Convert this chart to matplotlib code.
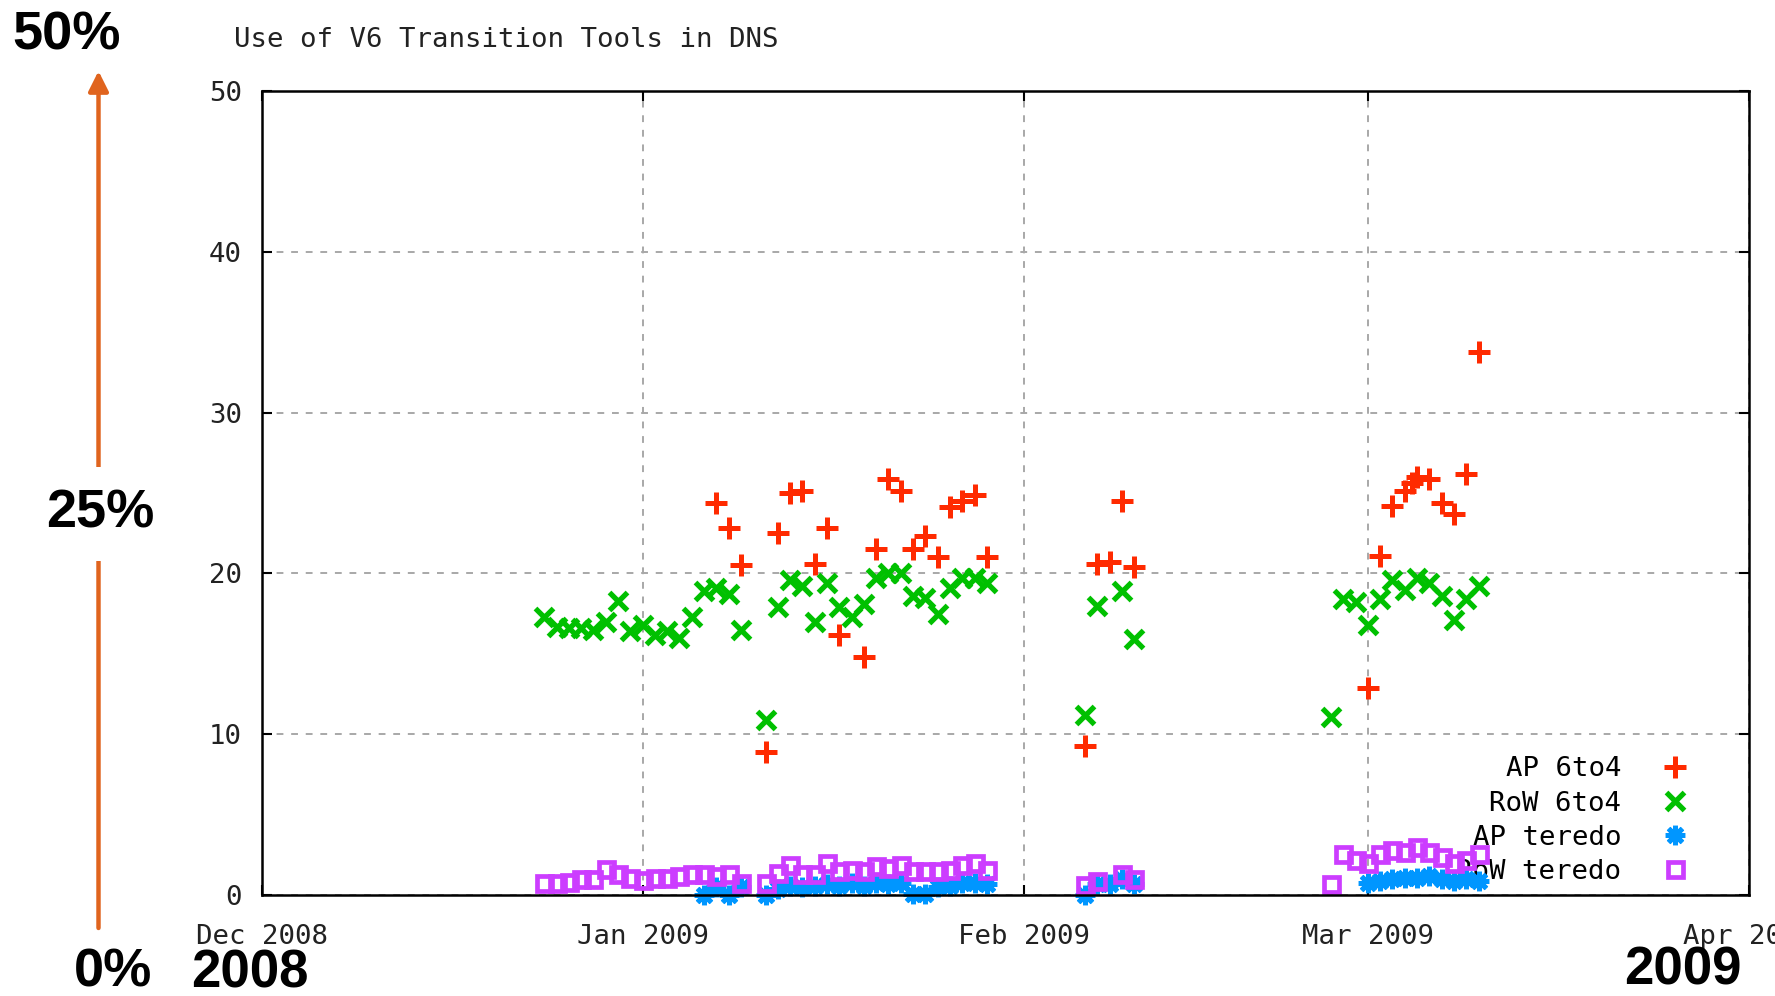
import pandas as pd
import matplotlib
matplotlib.use("Agg")
import matplotlib.pyplot as plt
import matplotlib.dates as mdates
from matplotlib.ticker import MultipleLocator

# valores (percentagem por dia)
ap6_dates = ["2009-01-07", "2009-01-08", "2009-01-09", "2009-01-11", "2009-01-12", "2009-01-13",
             "2009-01-14", "2009-01-15", "2009-01-16", "2009-01-17", "2009-01-19", "2009-01-20",
             "2009-01-21", "2009-01-22", "2009-01-23", "2009-01-24", "2009-01-25", "2009-01-26",
             "2009-01-27", "2009-01-28", "2009-01-29",
             "2009-02-06", "2009-02-07", "2009-02-08", "2009-02-09", "2009-02-10",
             "2009-03-01", "2009-03-02", "2009-03-03", "2009-03-04", "2009-03-04 14:00",
             "2009-03-05", "2009-03-06", "2009-03-07", "2009-03-08", "2009-03-09", "2009-03-10"]
ap6_vals = [24.4, 22.8, 20.5, 8.9, 22.5, 25.0,
            25.1, 20.6, 22.8, 16.2, 14.8, 21.5,
            25.9, 25.1, 21.5, 22.3, 21.0, 24.1,
            24.5, 24.9, 21.0,
            9.3, 20.6, 20.7, 24.5, 20.4,
            12.9, 21.1, 24.2, 25.1, 25.6,
            26.0, 25.9, 24.4, 23.7, 26.2, 33.75]

row6_dates = ["2008-12-24", "2008-12-25", "2008-12-26", "2008-12-27", "2008-12-28", "2008-12-29",
              "2008-12-30", "2008-12-31", "2009-01-01", "2009-01-02", "2009-01-03", "2009-01-04",
              "2009-01-05", "2009-01-06", "2009-01-07", "2009-01-08", "2009-01-09", "2009-01-11",
              "2009-01-12", "2009-01-13", "2009-01-14", "2009-01-15", "2009-01-16", "2009-01-17",
              "2009-01-18", "2009-01-19", "2009-01-20", "2009-01-21", "2009-01-22", "2009-01-23",
              "2009-01-24", "2009-01-25", "2009-01-26", "2009-01-27", "2009-01-28", "2009-01-29",
              "2009-02-06", "2009-02-07", "2009-02-09", "2009-02-10",
              "2009-02-26", "2009-02-27", "2009-02-28", "2009-03-01", "2009-03-02", "2009-03-03",
              "2009-03-04", "2009-03-05", "2009-03-06", "2009-03-07", "2009-03-08", "2009-03-09",
              "2009-03-10"]
row6_vals = [17.3, 16.7, 16.6, 16.6, 16.5, 17.0,
             18.3, 16.4, 16.8, 16.2, 16.4, 16.0,
             17.3, 18.9, 19.1, 18.7, 16.5, 10.9,
             17.9, 19.6, 19.2, 17.0, 19.4, 17.9,
             17.3, 18.1, 19.7, 20.0, 20.0, 18.6,
             18.5, 17.5, 19.1, 19.7, 19.7, 19.4,
             11.2, 18.0, 18.9, 15.9,
             11.1, 18.4, 18.2, 16.8, 18.4, 19.6,
             19.0, 19.7, 19.4, 18.6, 17.1, 18.4,
             19.2]

apt_dates = ["2009-01-06", "2009-01-07", "2009-01-08", "2009-01-09", "2009-01-11", "2009-01-12",
             "2009-01-13", "2009-01-14", "2009-01-15", "2009-01-16", "2009-01-17", "2009-01-18",
             "2009-01-19", "2009-01-20", "2009-01-21", "2009-01-22", "2009-01-23", "2009-01-24",
             "2009-01-25", "2009-01-26", "2009-01-27", "2009-01-28", "2009-01-29",
             "2009-02-06", "2009-02-07", "2009-02-08", "2009-02-09", "2009-02-10",
             "2009-03-01", "2009-03-02", "2009-03-03", "2009-03-04", "2009-03-05", "2009-03-06",
             "2009-03-07", "2009-03-08", "2009-03-09", "2009-03-10"]
apt_vals = [0.0, 0.5, 0.0, 0.5, 0.0, 0.4,
            0.6, 0.5, 0.6, 0.7, 0.6, 0.8,
            0.6, 0.8, 0.7, 0.8, 0.1, 0.1,
            0.5, 0.6, 0.8, 0.8, 0.7,
            0.0, 0.7, 0.7, 1.0, 0.7,
            0.8, 0.9, 1.0, 1.1, 1.1, 1.2,
            1.0, 0.9, 1.0, 0.9]

rowt_dates = ["2008-12-24", "2008-12-25", "2008-12-26", "2008-12-27", "2008-12-28", "2008-12-29",
              "2008-12-30", "2008-12-31", "2009-01-01", "2009-01-02", "2009-01-03", "2009-01-04",
              "2009-01-05", "2009-01-06", "2009-01-07", "2009-01-08", "2009-01-09", "2009-01-11",
              "2009-01-12", "2009-01-13", "2009-01-14", "2009-01-15", "2009-01-16", "2009-01-17",
              "2009-01-18", "2009-01-19", "2009-01-20", "2009-01-21", "2009-01-22", "2009-01-23",
              "2009-01-24", "2009-01-25", "2009-01-26", "2009-01-27", "2009-01-28", "2009-01-29",
              "2009-02-06", "2009-02-07", "2009-02-09", "2009-02-10",
              "2009-02-26", "2009-02-27", "2009-02-28", "2009-03-01", "2009-03-02", "2009-03-03",
              "2009-03-04", "2009-03-05", "2009-03-06", "2009-03-07", "2009-03-08", "2009-03-09",
              "2009-03-10"]
rowt_vals = [0.75, 0.75, 0.85, 1.0, 1.0, 1.65,
             1.35, 1.05, 0.95, 1.1, 1.1, 1.2,
             1.35, 1.3, 1.2, 1.3, 0.75, 0.8,
             1.4, 1.9, 1.3, 1.35, 2.0, 1.5,
             1.6, 1.5, 1.8, 1.7, 1.9, 1.5,
             1.5, 1.5, 1.6, 1.9, 2.0, 1.6,
             0.65, 0.9, 1.35, 1.0,
             0.7, 2.6, 2.2, 2.0, 2.6, 2.8,
             2.7, 3.0, 2.7, 2.4, 2.0, 2.2,
             2.6]

W, H = 1775, 996
mono = "DejaVu Sans Mono"
big = "Liberation Sans"
fs = 19.7


def datas(lista):
    return pd.to_datetime(lista, format="ISO8601")


fig = plt.figure(figsize=(W / 100, H / 100), dpi=100)
ax = fig.add_axes([261.5 / W, 1 - 895.4 / H, (1749 - 261.5) / W, (895.4 - 90.6) / H])

ax.plot(datas(ap6_dates), ap6_vals, ls="none", marker="+", ms=15.5, mew=3.6,
        color="#ff2a00", label="AP 6to4", clip_on=False)
ax.plot(datas(row6_dates), row6_vals, ls="none", marker="x", ms=12.5, mew=3.8,
        color="#00c000", label="RoW 6to4", clip_on=False)
ax.plot(datas(apt_dates), apt_vals, ls="none", marker=(8, 2, 0), ms=14, mew=3.6,
        color="#0096ff", label="AP teredo", clip_on=False)
ax.plot(datas(rowt_dates), rowt_vals, ls="none", marker="s", ms=10.8, mew=3.4,
        mfc="none", mec="#cc3dff", label="RoW teredo", clip_on=False)

ax.set_xlim(pd.Timestamp("2008-12-01"), pd.Timestamp("2009-04-01"))
ax.set_ylim(0, 50)
ax.xaxis.set_major_locator(mdates.MonthLocator())
ax.xaxis.set_major_formatter(mdates.DateFormatter("%b %Y"))
ax.yaxis.set_major_locator(MultipleLocator(10))

ax.set_axisbelow(True)
ax.grid(True, color="#a8a8a8", linestyle=(0, (3.5, 4)), linewidth=1.4)
for s in ax.spines.values():
    s.set_linewidth(1.8)
ax.tick_params(direction="in", top=True, right=True, length=7, width=1.5,
               labelsize=fs, colors="black")
ax.tick_params(axis="y", pad=14)
ax.tick_params(axis="x", pad=20.5)
for lab in ax.get_xticklabels() + ax.get_yticklabels():
    lab.set_family(mono)
    lab.set_color("#222222")

leg = ax.legend(loc="lower right", bbox_to_anchor=(0.9597, 0.013), markerfirst=False,
                frameon=False, prop={"family": mono, "size": fs}, handlelength=1.0,
                handletextpad=1.47, labelspacing=0.3, borderpad=0, borderaxespad=0)
leg.set_zorder(1.5)

fig.text(234 / W, 1 - 40 / H, "Use of V6 Transition Tools in DNS", family=mono,
         fontsize=fs, ha="left", va="center", color="#222222")

# seta e rotulos grandes fora do grafico
ax.annotate("", xy=(98.5 / W, 1 - 71 / H), xytext=(98.5 / W, 1 - 928 / H),
            xycoords="figure fraction", textcoords="figure fraction",
            arrowprops=dict(arrowstyle="-|>,head_length=0.6,head_width=0.3", color="#e0641e",
                            lw=3.2, mutation_scale=20, shrinkA=0, shrinkB=0),
            annotation_clip=False)

fig.text(67 / W, 1 - 36 / H, "50%", family=big, weight="bold", fontsize=39,
         ha="center", va="center")
fig.text(100 / W, 1 - 514 / H, "25%", family=big, weight="bold", fontsize=39,
         ha="center", va="center", bbox=dict(facecolor="white", edgecolor="none", pad=16))
fig.text(113 / W, 1 - 972 / H, "0%", family=big, weight="bold", fontsize=39,
         ha="center", va="center")
fig.text(250 / W, 1 - 973 / H, "2008", family=big, weight="bold", fontsize=38,
         ha="center", va="center")
fig.text(1683 / W, 1 - 970 / H, "2009", family=big, weight="bold", fontsize=38,
         ha="center", va="center")

fig.savefig("out.png", dpi=100)
